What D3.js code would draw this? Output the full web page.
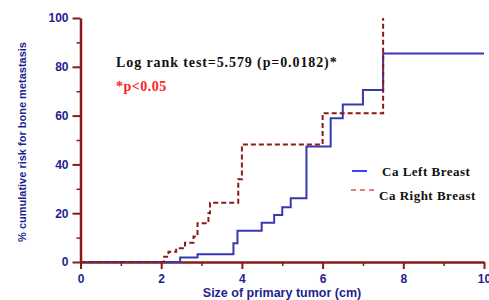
<!DOCTYPE html>
<html>
<head>
<meta charset="utf-8">
<script src="https://cdn.jsdelivr.net/npm/d3@7"></script>
<style>
  body { margin: 0; background: #fff; }
  .tick text { font-family: Arial, "Liberation Sans", sans-serif; font-weight: bold; font-size: 12px; fill: #1f1f8f; }
</style>
</head>
<body>
<div id="chart"></div>
<script>
// data (step times in cm, cumulative risk in %)
var leftTimes = [0, 2.47, 2.9, 3.79, 3.89, 4.49, 4.8, 5.0, 5.21, 5.6, 6.2, 6.5, 7.0, 7.5, 10];
var leftRisk = [0, 1.8, 3.2, 7.7, 12.8, 16.1, 19.3, 22.4, 26.1, 47.3, 58.9, 64.6, 70.5, 85.5, 85.5];
var rightTimes = [0, 2.07, 2.18, 2.37, 2.59, 2.8, 2.9, 3.17, 3.21, 3.91, 4.0, 6.0, 7.5];
var rightRisk = [0, 2.2, 4.2, 5.6, 7.9, 10.5, 15.9, 20, 24.3, 33.9, 48.2, 61, 100];
var xTicks = [0, 2, 4, 6, 8, 10];
var yTicks = [0, 20, 40, 60, 80, 100];
var seriesNames = ["Ca Left Breast", "Ca Right Breast"];

var margin = { top: 18, right: 5, bottom: 38, left: 80.5 };
var width = 489 - margin.left - margin.right;
var height = 300 - margin.top - margin.bottom;
var axisColor = "#8b1a1a";
var serif = "'Liberation Serif', 'Times New Roman', serif";

var svg = d3.select("#chart").append("svg")
  .attr("width", 489)
  .attr("height", 300)
  .style("font-family", "Arial, 'Liberation Sans', sans-serif");

var g = svg.append("g")
  .attr("transform", "translate(" + margin.left + "," + margin.top + ")");

var x = d3.scaleLinear().domain([0, 10]).range([0, 403.5]);
var y = d3.scaleLinear().domain([0, 100]).range([height, 0]);

// minor ticks
g.append("g")
  .attr("transform", "translate(0," + height + ")")
  .call(d3.axisBottom(x).tickValues(d3.range(1, 10, 2)).tickSize(4).tickFormat(""))
  .call(function(a) { a.select(".domain").remove(); a.selectAll("line").attr("stroke", axisColor).attr("stroke-width", 1.5); });
g.append("g")
  .call(d3.axisLeft(y).tickValues(d3.range(10, 100, 20)).tickSize(4).tickFormat(""))
  .call(function(a) { a.select(".domain").remove(); a.selectAll("line").attr("stroke", axisColor).attr("stroke-width", 1.5); });

// major axes
var xAxis = g.append("g")
  .attr("transform", "translate(0," + height + ")")
  .call(d3.axisBottom(x).tickValues(xTicks).tickSize(7).tickSizeOuter(0).tickPadding(5));
var yAxis = g.append("g")
  .call(d3.axisLeft(y).tickValues(yTicks).tickSize(8).tickSizeOuter(0).tickPadding(4));

[xAxis, yAxis].forEach(function(a) {
  a.select(".domain").attr("stroke", axisColor).attr("stroke-width", 2.5);
  a.selectAll(".tick line").attr("stroke", axisColor).attr("stroke-width", 2);
});

// step curves
var line = d3.line().curve(d3.curveStepAfter)
  .x(function(d) { return x(d[0]); })
  .y(function(d) { return y(d[1]); });

g.append("path")
  .datum(d3.zip(leftTimes, leftRisk))
  .attr("fill", "none")
  .attr("stroke", "#3838b0")
  .attr("stroke-width", 2)
  .attr("d", line);

g.append("path")
  .datum(d3.zip(rightTimes, rightRisk))
  .attr("fill", "none")
  .attr("stroke", "#8b1a1a")
  .attr("stroke-width", 2)
  .attr("stroke-dasharray", "5,3")
  .attr("d", line);

// axis titles
svg.append("text")
  .attr("x", 282)
  .attr("y", 297)
  .attr("text-anchor", "middle")
  .style("font-weight", "bold")
  .style("font-size", "12.5px")
  .style("fill", "#1f1f8f")
  .text("Size of primary tumor (cm)");

svg.append("text")
  .attr("transform", "translate(26,142) rotate(-90)")
  .attr("text-anchor", "middle")
  .style("font-weight", "bold")
  .style("font-size", "11px")
  .style("fill", "#1f1f8f")
  .text("% cumulative risk for bone metastasis");

// annotations
svg.append("text")
  .attr("x", 116)
  .attr("y", 67)
  .style("font-family", serif)
  .style("font-weight", "bold")
  .style("font-size", "14px")
  .style("letter-spacing", "0.9px")
  .style("fill", "#111")
  .text("Log rank test=5.579 (p=0.0182)*");

svg.append("text")
  .attr("x", 116)
  .attr("y", 91)
  .style("font-family", serif)
  .style("font-weight", "bold")
  .style("font-size", "14px")
  .style("letter-spacing", "0.5px")
  .style("fill", "#ff2020")
  .text("*p<0.05");

// legend
var legend = svg.append("g");
legend.append("line")
  .attr("x1", 352).attr("x2", 367).attr("y1", 171).attr("y2", 171)
  .attr("stroke", "#0000ff").attr("stroke-width", 1.5);
legend.append("line")
  .attr("x1", 351).attr("x2", 378).attr("y1", 190).attr("y2", 190)
  .attr("stroke", "#e05050").attr("stroke-width", 1.5)
  .attr("stroke-dasharray", "5,4");
legend.selectAll("text.leg")
  .data(seriesNames)
  .enter()
  .append("text")
  .attr("class", "leg")
  .attr("x", function(d, i) { return i === 0 ? 382 : 379; })
  .attr("y", function(d, i) { return i === 0 ? 176 : 200; })
  .style("font-family", serif)
  .style("font-weight", "bold")
  .style("font-size", "13px")
  .style("letter-spacing", "0.5px")
  .style("fill", "#111")
  .text(function(d) { return d; });
</script>
</body>
</html>
